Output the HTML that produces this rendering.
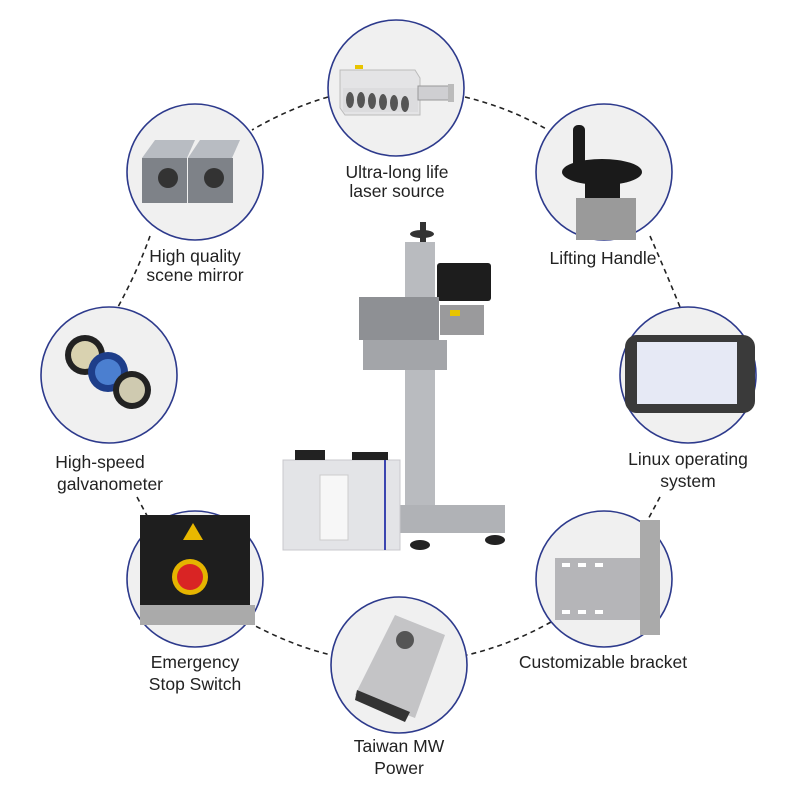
<!DOCTYPE html>
<html><head><style>
body{margin:0;background:#fff;}
svg{display:block}
text{font-family:"Liberation Sans",sans-serif;font-size:17.5px;fill:#222;}
</style></head><body>
<svg width="800" height="800" viewBox="0 0 800 800">
<g fill="none" stroke="#222" stroke-width="1.6" stroke-dasharray="5,4">
<path d="M328 97 Q290 108 252 130"/>
<path d="M465 97 Q510 108 548 130"/>
<path d="M150 236 Q138 270 118 307"/>
<path d="M650 236 Q665 270 680 307"/>
<path d="M137 497 Q145 512 152 525"/>
<path d="M660 497 Q652 512 645 525"/>
<path d="M248 622 Q290 645 331 655"/>
<path d="M551 622 Q510 645 467 655"/>
</g>
<g fill="#f0f0f0" stroke="#2d3a8c" stroke-width="1.6">
<circle cx="396" cy="88" r="68"/>
<circle cx="195" cy="172" r="68"/>
<circle cx="604" cy="172" r="68"/>
<circle cx="109" cy="375" r="68"/>
<circle cx="688" cy="375" r="68"/>
<circle cx="195" cy="579" r="68"/>
<circle cx="604" cy="579" r="68"/>
<circle cx="399" cy="665" r="68"/>
</g>
<!-- laser source -->
<polygon points="340,70 415,70 420,78 420,115 345,115 340,108" fill="#e4e4e6" stroke="#bbb"/>
<rect x="343" y="88" width="75" height="24" fill="#dcdcde"/>
<g fill="#555"><ellipse cx="350" cy="100" rx="4" ry="8"/><ellipse cx="361" cy="100" rx="4" ry="8"/><ellipse cx="372" cy="101" rx="4" ry="8"/><ellipse cx="383" cy="102" rx="4" ry="8"/><ellipse cx="394" cy="103" rx="4" ry="8"/><ellipse cx="405" cy="104" rx="4" ry="8"/></g>
<rect x="418" y="86" width="32" height="14" fill="#cfcfd2" stroke="#999"/>
<rect x="448" y="84" width="6" height="18" fill="#bbb"/>
<rect x="355" y="65" width="8" height="4" fill="#e8c400"/>
<!-- mirrors -->
<polygon points="142,158 155,140 195,140 187,158" fill="#b8bcc2"/>
<polygon points="188,158 200,140 240,140 232,158" fill="#b8bcc2"/>
<rect x="142" y="158" width="45" height="45" fill="#7e8288"/>
<rect x="188" y="158" width="45" height="45" fill="#7e8288"/>
<circle cx="168" cy="178" r="10" fill="#333"/><circle cx="214" cy="178" r="10" fill="#333"/>
<!-- handle -->
<rect x="573" y="125" width="12" height="48" fill="#1a1a1a" rx="5"/>
<ellipse cx="602" cy="172" rx="40" ry="13" fill="#1a1a1a"/>
<rect x="585" y="180" width="35" height="18" fill="#1a1a1a"/>
<rect x="576" y="198" width="60" height="42" fill="#9a9a9a"/>
<!-- lenses -->
<circle cx="85" cy="355" r="20" fill="#222"/><circle cx="85" cy="355" r="14" fill="#d9d2b0"/>
<circle cx="108" cy="372" r="20" fill="#1e3e8a"/><circle cx="108" cy="372" r="13" fill="#4b7fd0"/>
<circle cx="132" cy="390" r="19" fill="#222"/><circle cx="132" cy="390" r="13" fill="#cfcab0"/>
<!-- tablet -->
<rect x="625" y="335" width="130" height="78" rx="12" fill="#3a3a3a"/>
<rect x="637" y="342" width="100" height="62" fill="#e6e9f5"/>
<!-- estop -->
<rect x="140" y="515" width="110" height="100" fill="#1e1e1e"/>
<rect x="140" y="605" width="115" height="20" fill="#aaa"/>
<circle cx="190" cy="577" r="18" fill="#e5b400"/><circle cx="190" cy="577" r="13" fill="#d92424"/>
<polygon points="193,523 183,540 203,540" fill="#e8b800"/>
<!-- bracket -->
<rect x="555" y="558" width="85" height="62" fill="#b5b5b8"/>
<g fill="#fff"><rect x="562" y="563" width="8" height="4"/><rect x="578" y="563" width="8" height="4"/><rect x="595" y="563" width="8" height="4"/><rect x="562" y="610" width="8" height="4"/><rect x="578" y="610" width="8" height="4"/><rect x="595" y="610" width="8" height="4"/></g>
<rect x="640" y="520" width="20" height="115" fill="#aaa"/>
<!-- power -->
<polygon points="395,615 445,635 415,718 355,695" fill="#c4c4c6"/>
<circle cx="405" cy="640" r="9" fill="#555"/>
<polygon points="357,690 410,712 405,722 355,700" fill="#333"/>
<!-- machine -->
<rect x="405" y="242" width="30" height="268" fill="#b9bbbf"/>
<rect x="420" y="222" width="6" height="20" fill="#333"/>
<ellipse cx="422" cy="234" rx="12" ry="4" fill="#333"/>
<rect x="437" y="263" width="54" height="38" rx="3" fill="#1d1d1d"/>
<rect x="359" y="297" width="80" height="43" fill="#8e9094"/>
<rect x="363" y="340" width="84" height="30" fill="#a3a5a9"/>
<rect x="440" y="305" width="44" height="30" fill="#9a9a9c"/>
<rect x="450" y="310" width="10" height="6" fill="#e8c400"/>
<rect x="400" y="505" width="105" height="28" fill="#b0b2b6"/>
<ellipse cx="420" cy="545" rx="10" ry="5" fill="#222"/>
<ellipse cx="495" cy="540" rx="10" ry="5" fill="#222"/>
<rect x="283" y="460" width="117" height="90" fill="#e3e4e7" stroke="#c8c8cc"/>
<rect x="320" y="475" width="28" height="65" fill="#f7f7f7" stroke="#ccc"/>
<rect x="384" y="458" width="2" height="92" fill="#3b45b0"/>
<rect x="295" y="450" width="30" height="10" fill="#222"/>
<rect x="352" y="452" width="36" height="8" fill="#222"/>
<g text-anchor="middle">
<text x="397" y="178">Ultra-long life</text>
<text x="397" y="197">laser source</text>
<text x="195" y="262">High quality</text>
<text x="195" y="281">scene mirror</text>
<text x="603" y="264">Lifting Handle</text>
<text x="100" y="468">High-speed</text>
<text x="110" y="490">galvanometer</text>
<text x="688" y="465">Linux operating</text>
<text x="688" y="487">system</text>
<text x="195" y="668">Emergency</text>
<text x="195" y="690">Stop Switch</text>
<text x="603" y="668">Customizable bracket</text>
<text x="399" y="752">Taiwan MW</text>
<text x="399" y="774">Power</text>
</g>
</svg>
</body></html>
